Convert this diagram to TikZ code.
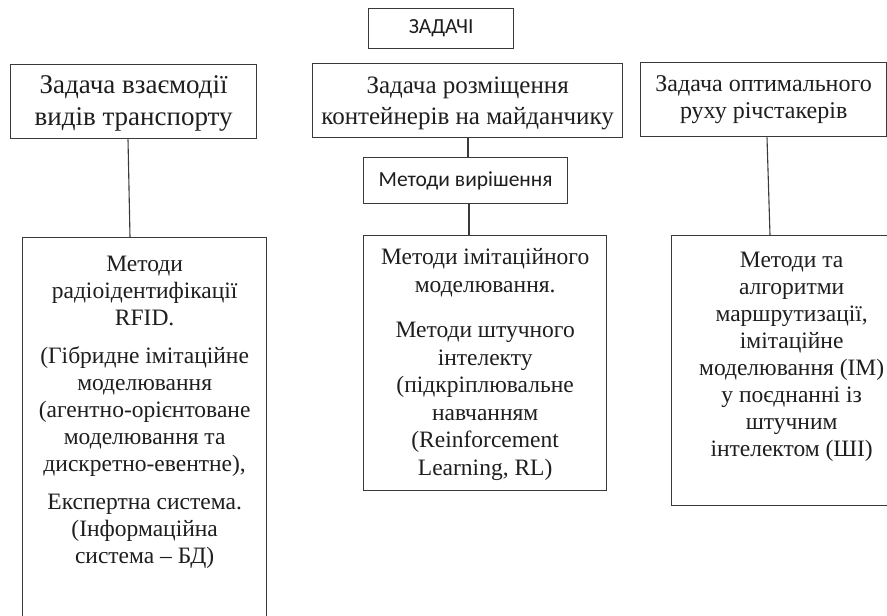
\documentclass[tikz,border=0pt]{standalone}
\usepackage{fontspec}
\setmainfont{Liberation Serif}
\newfontfamily\sansf{Carlito}
\usetikzlibrary{calc}
\definecolor{edge}{HTML}{3A3A3A}
\definecolor{ink}{HTML}{1E1E1E}
\tikzset{
  box/.style={draw=edge, line width=1.3pt, rectangle, anchor=north west, inner sep=0pt, text=ink, align=center},
  methodbox/.style={box, font=\fontsize{23.5}{27}\selectfont},
  sansbox/.style={box, font=\sansf\fontsize{21.5}{25}\selectfont},
  link/.style={draw=edge, line width=1.1pt}
}
\newcommand{\tallbox}[3]{\parbox[c][#2][t]{#1}{\centering #3}}
\begin{document}
\begin{tikzpicture}[x=1pt,y=-1pt]
\useasboundingbox (0,0) rectangle (887,616);
\clip (0,0) rectangle (887,616);
\fill[white] (0,0) rectangle (887,616);
% top label
\node[sansbox, minimum width=145pt, minimum height=40pt] (top) at (368,8) {ЗАДАЧІ};
% task boxes
\node[box, font=\fontsize{27}{32}\selectfont, minimum width=246pt, minimum height=74pt] (t1) at (10,64) {\rule{0pt}{22pt}Задача взаємодії\\видів транспорту};
\node[box, font=\fontsize{25}{31}\selectfont, minimum width=310pt, minimum height=74pt] (t2) at (312,63) {\rule{0pt}{22pt}Задача розміщення\\контейнерів на майданчику};
\node[box, font=\fontsize{24}{27}\selectfont, minimum width=246pt, minimum height=74pt] (t3) at (640,62) {Задача оптимального\\руху річстакерів};
% methods of solution
\node[sansbox, minimum width=204pt, minimum height=46pt] (ms) at (363,157) {Методи вирішення};
% method boxes
\node[methodbox] (m1) at (22,237) {\tallbox{244pt}{420pt}{\vspace{18pt}Методи\\радіоідентифікації\\RFID.\\[11pt](Гібридне імітаційне\\моделювання\\(агентно-орієнтоване\\моделювання та\\дискретно-евентне),\\[11pt]Експертна система.\\(Інформаційна\\система – БД)}};
\node[methodbox, font=\fontsize{23.5}{27.5}\selectfont] (m2) at (363,235) {\tallbox{243pt}{255pt}{\vspace{13pt}Методи імітаційного\\моделювання.\\[18pt]Методи штучного\\інтелекту\\(підкріплювальне\\навчанням\\(Reinforcement\\Learning, RL)}};
\node[methodbox] (m3) at (671,235) {\tallbox{240pt}{270pt}{\vspace{16pt}Методи та\\алгоритми\\маршрутизації,\\імітаційне\\моделювання (ІМ)\\у поєднанні із\\штучним\\інтелектом (ШІ)}};
% connectors
\draw[link] ([xshift=118pt]t1.south west) -- ([xshift=108pt]m1.north west);
\draw[link] ([xshift=156pt]t2.south west) -- ([xshift=105pt]ms.north west);
\draw[link] ([xshift=106pt]ms.south west) -- ([xshift=106pt]m2.north west);
\draw[link] ([xshift=127pt]t3.south west) -- ([xshift=99pt]m3.north west);
\end{tikzpicture}
\end{document}
